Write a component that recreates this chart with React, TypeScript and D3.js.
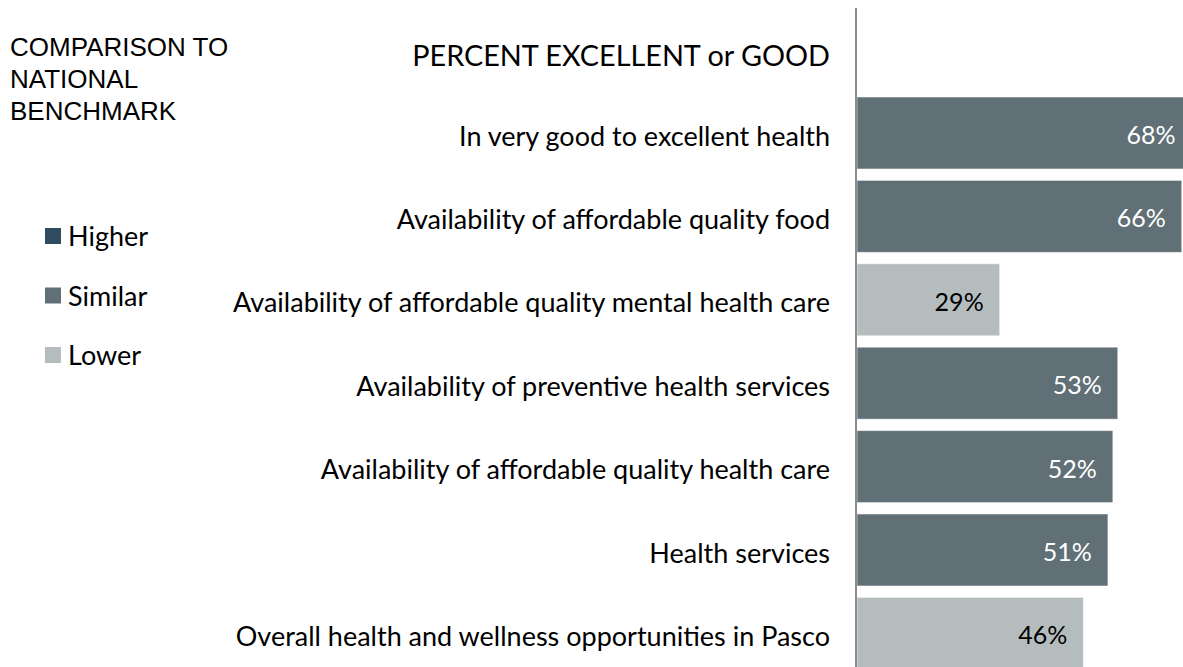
import React from "react";
import * as d3 from "d3";

const categories = [
  "In very good to excellent health",
  "Availability of affordable quality food",
  "Availability of affordable quality mental health care",
  "Availability of preventive health services",
  "Availability of affordable quality health care",
  "Health services",
  "Overall health and wellness opportunities in Pasco",
];
const values = [68, 66, 29, 53, 52, 51, 46];
const comparison = ["Similar", "Similar", "Lower", "Similar", "Similar", "Similar", "Lower"];
const legendItems = ["Higher", "Similar", "Lower"];
const colors: Record<string, string> = {
  Higher: "#2f4b5f",
  Similar: "#607076",
  Lower: "#b4bcbe",
};
const labelColors: Record<string, string> = {
  Higher: "#ffffff",
  Similar: "#ffffff",
  Lower: "#000000",
};

const W = 1183;
const H = 667;
const FONT = "Lato, 'Open Sans', sans-serif";

export default function App() {
  const step = 83.4;
  const pi = 0.137;
  const y = d3
    .scaleBand<string>()
    .domain(categories)
    .range([97 - (pi / 2) * step, 97 - (pi / 2) * step + categories.length * step])
    .paddingInner(pi)
    .paddingOuter(pi / 2);
  const x = d3.scaleLinear().domain([0, 100]).range([857, 857 + 492]);
  const legendY = d3.scalePoint<string>().domain(legendItems).range([236, 355]);

  return (
    <svg
      width={W}
      height={H}
      style={{ position: "absolute", left: 0, top: 0, display: "block", background: "#fff" }}
    >
      <g fontFamily="'Liberation Sans', Arial, sans-serif" fontSize={26} fill="#000">
        <text x={10} y={56}>COMPARISON TO</text>
        <text x={10} y={88}>NATIONAL</text>
        <text x={10} y={120}>BENCHMARK</text>
      </g>
      <text x={830} y={66} textAnchor="end" fontFamily={FONT} fontSize={28.8} fill="#000">
        PERCENT EXCELLENT or GOOD
      </text>
      {legendItems.map((k) => (
        <g key={k}>
          <rect x={45} y={legendY(k)! - 8} width={16} height={16} fill={colors[k]} />
          <text x={68} y={legendY(k)! + 10} fontFamily={FONT} fontSize={27} fill="#000">
            {k}
          </text>
        </g>
      ))}
      {categories.map((c, i) => {
        const y0 = y(c)!;
        const bw = y.bandwidth();
        const cmp = comparison[i];
        return (
          <g key={c}>
            <rect
              x={x(0)}
              y={y0}
              width={x(values[i]) - x(0)}
              height={bw}
              fill={colors[cmp]}
              stroke="#ffffff"
              strokeOpacity={0.5}
              strokeWidth={1}
            />
            <text
              x={830}
              y={y0 + bw / 2}
              dy="0.47em"
              textAnchor="end"
              fontFamily={FONT}
              fontSize={27}
              fill="#000"
            >
              {c}
            </text>
            <text
              x={x(values[i]) - 16}
              y={y0 + bw / 2}
              dy="0.44em"
              textAnchor="end"
              fontFamily={FONT}
              fontSize={25}
              fill={labelColors[cmp]}
            >
              {values[i]}%
            </text>
          </g>
        );
      })}
      <line x1={856} x2={856} y1={8} y2={H} stroke="#8c8c8c" strokeWidth={2} />
    </svg>
  );
}
